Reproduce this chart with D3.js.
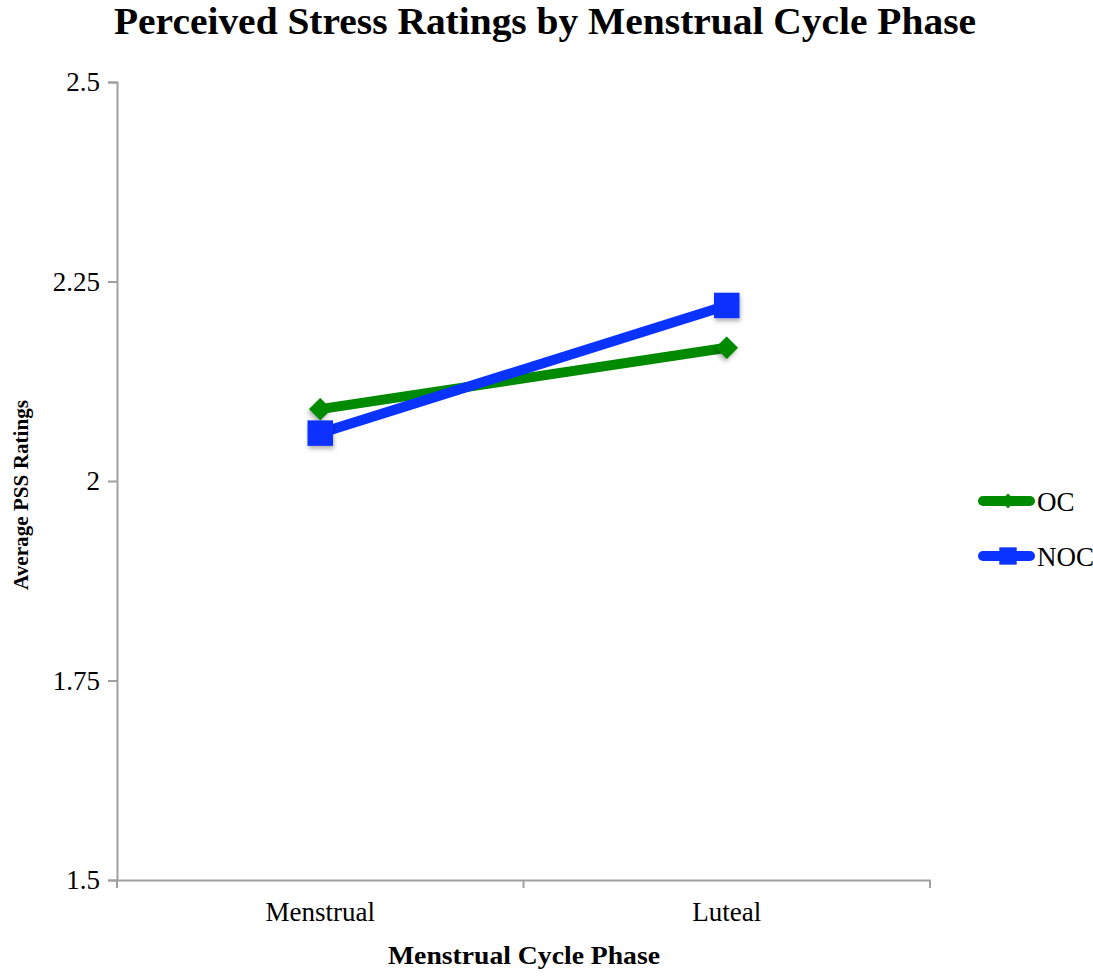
<!DOCTYPE html>
<html>
<head>
<meta charset="utf-8">
<script src="https://cdn.jsdelivr.net/npm/d3@7"></script>
<style>
  body { margin: 0; background: #fff; }
  text { font-family: "Liberation Serif", "DejaVu Serif", serif; }
</style>
</head>
<body>
<script>
// data
var phases = ["Menstrual", "Luteal"];
var seriesNames = ["OC", "NOC"];
var ocValues = [2.09, 2.167];
var nocValues = [2.06, 2.22];
var yTicks = [1.5, 1.75, 2, 2.25, 2.5];
var yTickLabels = ["1.5", "1.75", "2", "2.25", "2.5"];

var width = 1093, height = 976;
var colors = { OC: "#008a00", NOC: "#0a33ff" };

var svg = d3.select("body").append("svg")
    .attr("width", width)
    .attr("height", height);

var defs = svg.append("defs");
var f = defs.append("filter").attr("id", "shadow")
    .attr("x", "-50%").attr("y", "-50%").attr("width", "200%").attr("height", "200%");
f.append("feDropShadow").attr("dx", 1).attr("dy", 3).attr("stdDeviation", 2)
    .attr("flood-color", "#000").attr("flood-opacity", 0.3);

var xScale = d3.scaleBand()
    .domain(phases)
    .range([117, 930]);

var yScale = d3.scaleLinear()
    .domain([1.5, 2.5])
    .range([880, 82]);

// axes
var yAxis = svg.append("g")
    .attr("transform", "translate(117,0)")
    .call(d3.axisLeft(yScale).tickValues(yTicks)
        .tickFormat(function(d, i) { return yTickLabels[i]; })
        .tickSize(9).tickPadding(8));

var xAxis = svg.append("g")
    .attr("transform", "translate(0,880)")
    .call(d3.axisBottom(xScale).tickSize(0).tickPadding(22));

// x axis ticks at band edges
xAxis.selectAll(".edge")
    .data([117, 117 + xScale.bandwidth(), 930])
    .enter().append("line")
    .attr("x1", function(d) { return d; })
    .attr("x2", function(d) { return d; })
    .attr("y1", 0).attr("y2", 8)
    .attr("stroke", "#a0a0a0").attr("stroke-width", 2);

svg.selectAll(".domain").attr("stroke", "#a0a0a0").attr("stroke-width", 2);
yAxis.selectAll(".tick line").attr("stroke", "#a0a0a0").attr("stroke-width", 2);
svg.selectAll(".tick text")
    .attr("font-size", 27)
    .attr("fill", "#000")
    .style("font-family", "'Liberation Serif', serif");

// title and axis labels
svg.append("text")
    .attr("x", 545).attr("y", 34)
    .attr("text-anchor", "middle")
    .attr("font-size", 37).attr("font-weight", "bold")
    .attr("textLength", 862).attr("lengthAdjust", "spacingAndGlyphs")
    .text("Perceived Stress Ratings by Menstrual Cycle Phase");

svg.append("text")
    .attr("x", 524).attr("y", 964)
    .attr("text-anchor", "middle")
    .attr("font-size", 26).attr("font-weight", "bold")
    .attr("textLength", 272).attr("lengthAdjust", "spacingAndGlyphs")
    .text("Menstrual Cycle Phase");

svg.append("text")
    .attr("transform", "translate(28,495) rotate(-90)")
    .attr("text-anchor", "middle")
    .attr("font-size", 22).attr("font-weight", "bold")
    .attr("textLength", 190).attr("lengthAdjust", "spacingAndGlyphs")
    .text("Average PSS Ratings");

// series
var diamond = d3.symbol().type(d3.symbolSquare);
var series = [
    { name: "OC", values: ocValues, shape: d3.symbolSquare, size: 256, rot: 45 },
    { name: "NOC", values: nocValues, shape: d3.symbolSquare, size: 650, rot: 0 }
];

var line = d3.line()
    .x(function(d, i) { return xScale(phases[i]) + xScale.bandwidth() / 2; })
    .y(function(d) { return yScale(d); });

series.forEach(function(s) {
    var g = svg.append("g");
    g.append("path")
        .attr("d", line(s.values))
        .attr("fill", "none")
        .attr("stroke", colors[s.name])
        .attr("stroke-width", 10);
    g.selectAll("path.pt")
        .data(s.values)
        .enter().append("path")
        .attr("class", "pt")
        .attr("filter", "url(#shadow)")
        .attr("transform", function(d, i) {
            return "translate(" + (xScale(phases[i]) + xScale.bandwidth() / 2) + "," + yScale(d) + ") rotate(" + s.rot + ")";
        })
        .attr("d", d3.symbol().type(s.shape).size(s.size))
        .attr("fill", colors[s.name]);
});

// legend
var legend = svg.selectAll(".legend")
    .data(series)
    .enter().append("g")
    .attr("class", "legend")
    .attr("transform", function(d, i) { return "translate(978," + (501 + i * 55) + ")"; });

legend.append("line")
    .attr("x1", 5).attr("x2", 52)
    .attr("stroke", function(d) { return colors[d.name]; })
    .attr("stroke-width", 10)
    .attr("stroke-linecap", "round");

legend.append("path")
    .attr("transform", function(d) { return "translate(30,0) rotate(" + d.rot + ")"; })
    .attr("d", function(d) { return d3.symbol().type(d.shape).size(d.name === "OC" ? 110 : 300)(); })
    .attr("fill", function(d) { return colors[d.name]; });

legend.append("text")
    .attr("x", 59).attr("y", 10)
    .attr("font-size", 27)
    .text(function(d) { return d.name; });
</script>
</body>
</html>
